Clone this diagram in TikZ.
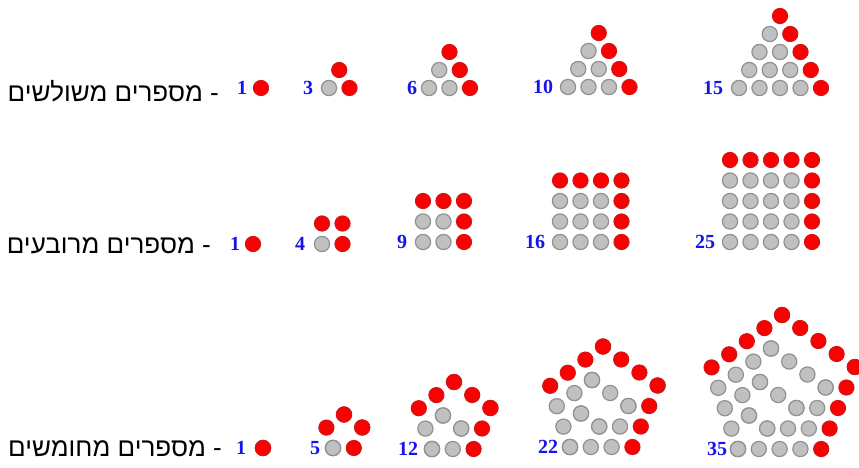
\documentclass[tikz,border=0pt]{standalone}
\usepackage{fontspec}
\setmainfont{Liberation Serif}
\newfontfamily\hebfont[Script=Hebrew]{Liberation Sans}
\TeXXeTstate=1
\definecolor{dotred}{RGB}{250,0,0}
\definecolor{dotredb}{RGB}{205,25,25}
\definecolor{dotgray}{RGB}{192,192,192}
\definecolor{dotgrayb}{RGB}{145,145,145}
\definecolor{numblue}{RGB}{20,20,235}
\tikzset{
  gdot/.style={fill=dotgray,draw=dotgrayb,line width=1.2pt},
  rdot/.style={fill=dotred,draw=dotredb,line width=1pt},
  numlab/.style={text=numblue,font=\fontsize{20}{24}\selectfont\bfseries,inner sep=0pt},
  heblab/.style={font=\hebfont\fontsize{26}{30}\selectfont,inner sep=0pt,anchor=east},
}
\newcommand\gdotat[2]{\path[gdot] (#1,#2) circle[radius=7.6pt];}
\newcommand\rdotat[2]{\path[rdot] (#1,#2) circle[radius=7.6pt];}
% triangle: bottom-left x, y, n
\newcommand\trifig[3]{%
  \pgfmathtruncatemacro\trN{#3-1}%
  \foreach \r in {0,...,\trN}{%
    \pgfmathtruncatemacro\trL{#3-1-\r}%
    \foreach \c in {0,...,\trL}{%
      \pgfmathsetmacro\trX{#1+(\c+0.5*\r)*20.5}%
      \pgfmathsetmacro\trY{#2-\r*18}%
      \ifnum\c=\trL \rdotat{\trX}{\trY}\else\gdotat{\trX}{\trY}\fi
    }}}
% square: bottom-left x, y, n
\newcommand\sqfig[3]{%
  \pgfmathtruncatemacro\sqN{#3-1}%
  \foreach \r in {0,...,\sqN}{%
    \foreach \c in {0,...,\sqN}{%
      \pgfmathsetmacro\sqX{#1+\c*20.5}%
      \pgfmathsetmacro\sqY{#2-\r*20.5}%
      \ifnum\r=\sqN \rdotat{\sqX}{\sqY}\else
        \ifnum\c=\sqN \rdotat{\sqX}{\sqY}\else\gdotat{\sqX}{\sqY}\fi\fi
    }}}
% pentagon: bottom-left x, y, k (side steps)
\newcommand\pentfig[3]{%
  \foreach \m in {0,...,#3}{%
    \foreach \j in {0,...,\m}{%
      \ifnum\m<#3 \let\dotcmd\gdotat\else\let\dotcmd\rdotat\fi
      \pgfmathsetmacro\pX{#1+\m*20.8+\j*8.4}%
      \pgfmathsetmacro\pY{#2-\j*20.5}%
      \dotcmd{\pX}{\pY}%
      \pgfmathsetmacro\pX{#1+\m*29.2-\j*18.2}%
      \pgfmathsetmacro\pY{#2-\m*20.5-\j*13}%
      \dotcmd{\pX}{\pY}%
      \pgfmathsetmacro\pX{#1-\m*6.6+\j*17.6}%
      \pgfmathsetmacro\pY{#2-\m*20.4-\j*13.1}%
      \dotcmd{\pX}{\pY}%
    }}}
\begin{document}
\begin{tikzpicture}[x=1pt,y=-1pt]
\useasboundingbox (0,0) rectangle (859,468);
\fill[white] (0,0) rectangle (859,468);
% row 1: triangular numbers
\node[heblab] (h1) at (219,91.5) {\beginR - מספרים משולשים\endR};
\node[numlab] (t1) at (242,88) {1};   \trifig{261}{88}{1}
\node[numlab] (t3) at (308,88) {3};   \trifig{329}{88}{2}
\node[numlab] (t6) at (412,88) {6};   \trifig{429}{88}{3}
\node[numlab] (t10) at (543,87) {10}; \trifig{568}{87}{4}
\node[numlab] (t15) at (713,88) {15}; \trifig{739}{88}{5}
% row 2: square numbers
\node[heblab] (h2) at (211,246) {\beginR - מספרים מרובעים\endR};
\node[numlab] (s1) at (235,244) {1};   \sqfig{253}{244}{1}
\node[numlab] (s4) at (300,244) {4};   \sqfig{322}{244}{2}
\node[numlab] (s9) at (402,242) {9};   \sqfig{423}{242}{3}
\node[numlab] (s16) at (535,242) {16}; \sqfig{560}{242}{4}
\node[numlab] (s25) at (705,242) {25}; \sqfig{730}{242}{5}
% row 3: pentagonal numbers
\node[heblab] (h3) at (222,448.5) {\beginR - מספרים מחומשים\endR};
\node[numlab] (p1) at (241,448) {1};   \pentfig{263}{448}{0}
\node[numlab] (p5) at (315,448) {5};   \pentfig{333}{448}{1}
\node[numlab] (p12) at (408,449) {12}; \pentfig{432}{449}{2}
\node[numlab] (p22) at (548,447) {22}; \pentfig{570}{447}{3}
\node[numlab] (p35) at (717,449) {35}; \pentfig{738}{449}{4}
\end{tikzpicture}
\end{document}
